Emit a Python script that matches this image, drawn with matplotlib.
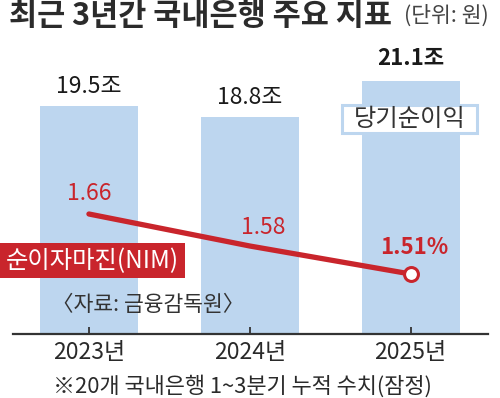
import matplotlib
matplotlib.use("Agg")
import matplotlib.pyplot as plt
from matplotlib.patches import Rectangle

plt.rcParams['font.family'] = ['Noto Sans CJK KR', 'DejaVu Sans']

years = ["2023년", "2024년", "2025년"]
profit = [19.5, 18.8, 21.1]          # 조 원
profit_labels = ["19.5조", "18.8조", "21.1조"]
nim = [1.66, 1.58, 1.51]              # %
nim_labels = ["1.66", "1.58", "1.51%"]

W, H = 500, 398
BAR = "#bdd6ef"
RED = "#c9252c"
DARK = "#333333"

fig = plt.figure(figsize=(W / 100, H / 100), dpi=100)
fig.patch.set_facecolor("white")

def fx(x):
    return x / W

def fy(y):
    return 1 - y / H

# axes area in pixels
L, R, T, B = 13, 488, 30, 334
ax = fig.add_axes([fx(L), fy(B), (R - L) / W, (B - T) / H])
ax.set_facecolor("none")
x = list(range(len(years)))
ax.bar(x, profit, width=0.609, color=BAR, zorder=1)
ax.set_xlim(-0.472, 2.481)
ax.set_ylim(4.9, 4.9 + (B - T) / 15.6)
for s in ["top", "right", "left"]:
    ax.spines[s].set_visible(False)
ax.spines["bottom"].set_color(DARK)
ax.spines["bottom"].set_linewidth(1.6)
ax.set_yticks([])
ax.set_xticks(x)
ax.set_xticklabels(years, fontsize=16.5, color="#2a2a2a")
ax.tick_params(axis="x", direction="in", length=5, width=1.3, color=DARK, pad=5)

for i, (v, lab) in enumerate(zip(profit, profit_labels)):
    bold = (i == len(profit) - 1)
    ax.annotate(lab, (i, v), xytext=(0, 23 if bold else 20), textcoords="offset pixels",
                ha="center", va="center", fontsize=16 if bold else 16.5,
                fontweight="bold" if bold else "normal", color="#1a1a1a")

ax2 = ax.twinx()
ax2.set_position(ax.get_position())
ax2.set_ylim(1.36, 1.36 + (B - T) / 400)
ax2.set_yticks([])
for s in ax2.spines.values():
    s.set_visible(False)
ax2.plot(x, nim, color=RED, lw=3.8, solid_capstyle="round", zorder=3)
ax2.plot(x[-1], nim[-1], "o", ms=10, mfc="white", mec=RED, mew=2.2, zorder=4)
offsets = [(0, 21), (13, 19), (4, 27)]
for i, (v, lab) in enumerate(zip(nim, nim_labels)):
    last = (i == len(nim) - 1)
    ax2.annotate(lab, (i, v), xytext=offsets[i], textcoords="offset pixels",
                 ha="center", va="center", fontsize=16 if last else 16.5,
                 fontweight="bold" if last else "normal", color=RED)

# title
fig.text(fx(9), fy(16), "최근 3년간 국내은행 주요 지표", fontsize=22, fontweight="bold",
         color="#2b2b2b", ha="left", va="center")
fig.text(fx(489), fy(16), "(단위: 원)", fontsize=15.5, color="#444444", ha="right", va="center")

# 당기순이익 box
fig.patches.append(Rectangle((fx(342), fy(133)), (477 - 342) / W, (133 - 105) / H,
                             transform=fig.transFigure, facecolor="white",
                             edgecolor=BAR, lw=2.2, zorder=5))
fig.text(fx(410), fy(119), "당기순이익", fontsize=17.5, color=DARK, ha="center", va="center", zorder=6)

# 순이자마진 box
fig.patches.append(Rectangle((fx(0), fy(278)), 185 / W, (278 - 243) / H,
                             transform=fig.transFigure, facecolor=RED,
                             edgecolor="none", zorder=5))
fig.text(fx(92), fy(261), "순이자마진(NIM)", fontsize=17.5, color="white", ha="center", va="center", zorder=6)

# source
fig.text(fx(52), fy(305), "〈자료: 금융감독원〉", fontsize=15.5, color=DARK, ha="left", va="center")

# footnote
fig.text(fx(53), fy(386), "※20개 국내은행 1~3분기 누적 수치(잠정)", fontsize=15.8, color="#2a2a2a",
         ha="left", va="center")

fig.savefig("out.png", dpi=100, facecolor="white")
